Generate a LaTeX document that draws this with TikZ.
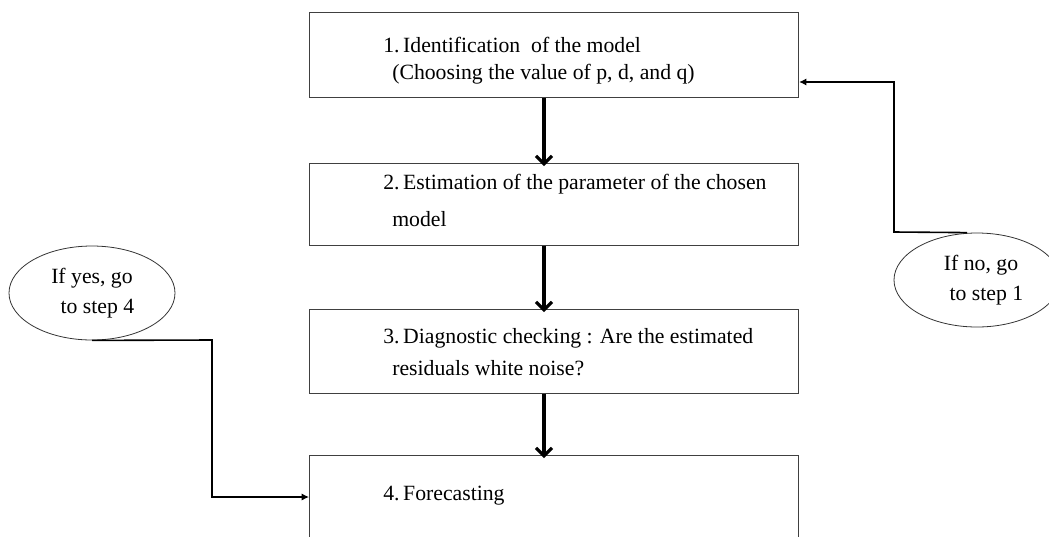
\documentclass[tikz,border=0pt]{standalone}
\usepackage{fontspec}
\setmainfont{Liberation Serif}
\usetikzlibrary{arrows.meta,shapes.geometric}
\begin{document}
\begin{tikzpicture}[x=0.75pt,y=-0.75pt,
  stepbox/.style={draw=black!75,line width=0.8pt,minimum width=489*0.75pt,anchor=north west,inner sep=0pt},
  oval/.style={draw=black!80,line width=0.6pt,ellipse,inner sep=0pt,minimum width=166*0.75pt,minimum height=94*0.75pt,align=center,font=\fontsize{16.3}{22}\selectfont},
  txt/.style={anchor=west,font=\fontsize{16.3}{19}\selectfont,inner sep=0pt},
  bigarrow/.style={line width=2.6pt,-{Straight Barb[length=6pt,width=12pt,line width=2.4pt]}},
  thinarrow/.style={line width=1.2pt,-{Latex[length=5.5pt,width=5.5pt]}}]
\useasboundingbox (0,0) rectangle (1049,536);
\clip (0,0) rectangle (1049,536);
\node[stepbox,minimum height=85*0.75pt] (b1) at (309,12) {};
\node[stepbox,minimum height=82*0.75pt] (b2) at (309,163) {};
\node[stepbox,minimum height=84*0.75pt] (b3) at (309,309) {};
\node[stepbox,minimum height=120*0.75pt] (b4) at (309,455) {};
\node[txt] (t1a) at (383,45) {1.\,Identification\ \ of the model};
\node[txt] (t1b) at (392,74) {(Choosing the value of p, d, and q)};
\node[txt] (t2a) at (383,184) {2.\,Estimation of the parameter of the chosen};
\node[txt] (t2b) at (392,219) {model};
\node[txt] (t3a) at (383,338) {3.\,Diagnostic checking : Are the estimated};
\node[txt] (t3b) at (392,368) {residuals white noise?};
\node[txt] (t4) at (383,496) {4.\,Forecasting};
\node[oval] (yes) at (92,293) {If yes, go\\\ \ to step 4};
\node[oval] (no) at (977,280) {\hspace*{6pt}If no, go\\\hspace*{6pt}\ \ to step 1};
\coordinate (c1) at (544,0);
\draw[bigarrow] (c1 |- b1.south) -- ([yshift=-2.4]c1 |- b2.north);
\draw[bigarrow] (c1 |- b2.south) -- ([yshift=-2.4]c1 |- b3.north);
\draw[bigarrow] (c1 |- b3.south) -- ([yshift=-2.4]c1 |- b4.north);
\draw[thinarrow] (yes.south) -- (212,340) -- (212,497) -- (b4.west |- 0,497);
\draw[thinarrow] (no.north) ++(-10,0) -- (894,232) -- (894,82) -- (b1.east |- 0,82);
\end{tikzpicture}
\end{document}
